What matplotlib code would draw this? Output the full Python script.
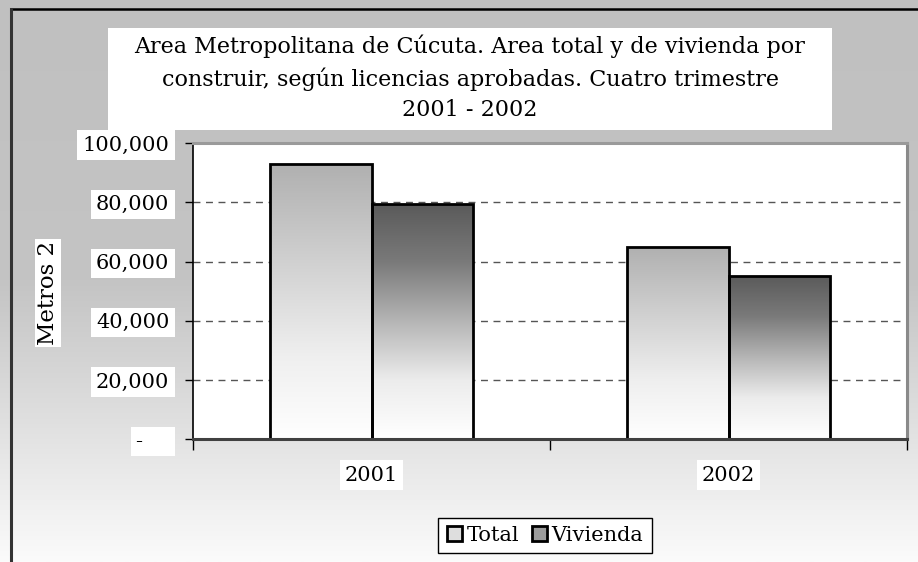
import matplotlib
matplotlib.use("Agg")
import matplotlib.pyplot as plt
import numpy as np
from matplotlib.patches import Rectangle, Patch
from matplotlib.lines import Line2D
from matplotlib.colors import LinearSegmentedColormap

categories = ['2001', '2002']
series_names = ['Total', 'Vivienda']
total = [93000, 65000]
vivienda = [79400, 55200]
yticks = [0, 20000, 40000, 60000, 80000, 100000]
ytick_labels = ['-    ', '20,000', '40,000', '60,000', '80,000', '100,000']
title = ("Area Metropolitana de Cúcuta. Area total y de vivienda por\n"
         "construir, según licencias aprobadas. Cuatro trimestre\n"
         "2001 - 2002")
ylabel = "Metros 2"

plt.rcParams['font.family'] = ['DejaVu Serif']

W, H = 918, 562
fig = plt.figure(figsize=(W / 100, H / 100), dpi=100)

def fx(px):
    return px / W

def fy(py):
    return 1 - py / H

# background gradient
bg = fig.add_axes([0, 0, 1, 1], zorder=-10)
bg.set_axis_off()
bg_cmap = LinearSegmentedColormap.from_list('bg', ['#c0c0c0', '#c4c4c4', '#fbfbfb'])
bg.imshow(np.linspace(0, 1, 256)[:, None], aspect='auto', cmap=bg_cmap,
          extent=[0, 1, 0, 1])
bg.set_xlim(0, 1)
bg.set_ylim(0, 1)

# frame lines (top and left)
fig.add_artist(Line2D([fx(10.5), 1], [fy(9), fy(9)], color='black', lw=1.8))
fig.add_artist(Line2D([fx(10.5), fx(10.5)], [0, fy(9)], color='#333333', lw=2.2))

# main axes
ax = fig.add_axes([fx(193), fy(439.3), fx(907) - fx(193), fy(143) - fy(439.3)])
ax.set_facecolor('white')

x = np.arange(len(categories))
w = 0.2857

cm_total = LinearSegmentedColormap.from_list(
    't', [(0, '#ffffff'), (0.3, '#efefef'), (0.65, '#d0d0d0'), (1, '#b0b0b0')])
cm_viv = LinearSegmentedColormap.from_list(
    'v', [(0, '#ffffff'), (0.25, '#ececec'), (0.5, '#b5b5b5'), (0.75, '#7a7a7a'), (1, '#5a5a5a')])

grad = np.linspace(1, 0, 256)[:, None]
for vals, off, cmap in [(total, -w / 2, cm_total), (vivienda, w / 2, cm_viv)]:
    bars = ax.bar(x + off, vals, width=w, facecolor='none', edgecolor='black',
                  linewidth=2.0, zorder=4)
    for b in bars:
        x0, y0 = b.get_x(), b.get_y()
        bw, bh = b.get_width(), b.get_height()
        im = ax.imshow(grad, aspect='auto', cmap=cmap, vmin=0, vmax=1,
                       extent=[x0, x0 + bw, y0, y0 + bh], zorder=3)
        im.set_clip_path(b)

ax.set_xlim(-0.5, len(categories) - 0.5)
ax.set_ylim(0, 100000)

# gridlines
for yv in yticks[1:-1]:
    ax.axhline(yv, color='#555555', lw=1.0, linestyle=(0, (5, 4)), zorder=1)

# spines
ax.spines['left'].set_color('black')
ax.spines['left'].set_linewidth(1.2)
ax.spines['bottom'].set_color('#404040')
ax.spines['bottom'].set_linewidth(2.2)
ax.spines['top'].set_color('#9a9a9a')
ax.spines['top'].set_linewidth(2.2)
ax.spines['right'].set_color('#8a8a8a')
ax.spines['right'].set_linewidth(2.2)
for s in ax.spines.values():
    s.set_zorder(5)

# y ticks
ax.set_yticks(yticks)
ax.set_yticklabels(ytick_labels)
ax.tick_params(axis='y', direction='out', length=6, width=1, color='black',
               pad=11, labelsize=15)
for lab in ax.get_yticklabels():
    lab.set_bbox(dict(facecolor='white', edgecolor='none', boxstyle='square,pad=0.25'))

# x ticks
ax.set_xticks(x)
ax.set_xticklabels(categories)
ax.set_xticks(np.arange(-0.5, len(categories), 1.0), minor=True)
ax.tick_params(axis='x', which='major', length=0, pad=19, labelsize=15)
ax.tick_params(axis='x', which='minor', direction='out', length=8, width=1, color='black')
for lab in ax.get_xticklabels():
    lab.set_bbox(dict(facecolor='white', edgecolor='none', boxstyle='square,pad=0.25'))

# y label
fig.text(fx(48), fy(293), ylabel, rotation=90, ha='center', va='center', fontsize=16.5,
         bbox=dict(facecolor='white', edgecolor='none', boxstyle='square,pad=0.1'))

# title with white box
fig.add_artist(Rectangle((fx(108), fy(130)), fx(832) - fx(108), fy(28) - fy(130),
                         transform=fig.transFigure, facecolor='white', edgecolor='none'))
fig.text(fx(470), fy(78), title, ha='center', va='center', fontsize=16,
         linespacing=1.5)

# legend
handles = [Patch(facecolor='#dedede', edgecolor='black', linewidth=2.0),
           Patch(facecolor='#9c9c9c', edgecolor='black', linewidth=2.0)]
leg = fig.legend(handles, series_names, loc='center',
                 bbox_to_anchor=(fx(545), fy(535.5)), ncol=2, fontsize=15,
                 frameon=True, fancybox=False, handlelength=0.75, handleheight=0.75,
                 handletextpad=0.2, columnspacing=0.6, borderpad=0.4,
                 borderaxespad=0)
leg.get_frame().set_edgecolor('black')
leg.get_frame().set_linewidth(1.0)
leg.get_frame().set_facecolor('white')
leg.get_frame().set_alpha(1)

fig.savefig('out.png', dpi=100)
